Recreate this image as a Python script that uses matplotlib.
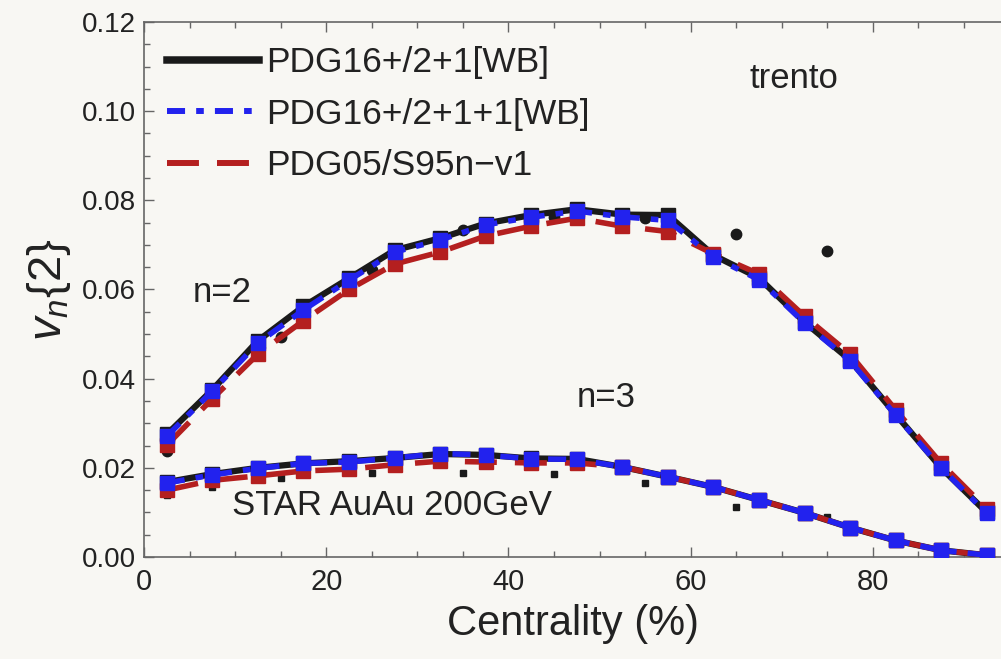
import matplotlib
matplotlib.use("Agg")
import matplotlib.pyplot as plt
from matplotlib.lines import Line2D
from matplotlib.ticker import MultipleLocator
from matplotlib import font_manager

names = {f.name for f in font_manager.fontManager.ttflist}
BASE = "Liberation Sans" if "Liberation Sans" in names else "DejaVu Sans"
NARROW = "Liberation Sans Narrow" if "Liberation Sans Narrow" in names else BASE

plt.rcParams["font.family"] = [BASE, "DejaVu Sans"]
plt.rcParams["mathtext.fontset"] = "custom"
plt.rcParams["mathtext.rm"] = BASE
plt.rcParams["mathtext.it"] = BASE + ":italic"
plt.rcParams["lines.scale_dashes"] = False

# ---------------- data ----------------
centrality = [2.5, 7.5, 12.5, 17.5, 22.5, 27.5, 32.5, 37.5, 42.5, 47.5,
              52.5, 57.5, 62.5, 67.5, 72.5, 77.5, 82.5, 87.5, 92.5]

v2_wb = [0.0275, 0.0375, 0.0485, 0.0562, 0.0625, 0.0688, 0.0715, 0.0748, 0.0767, 0.0780,
         0.0768, 0.0767, 0.0677, 0.0626, 0.0527, 0.0442, 0.0320, 0.0200, 0.0100]
v2_wb1 = [0.0271, 0.0372, 0.0480, 0.0554, 0.0621, 0.0684, 0.0711, 0.0745, 0.0762, 0.0776,
          0.0763, 0.0755, 0.0673, 0.0622, 0.0525, 0.0440, 0.0318, 0.0200, 0.0098]
v2_s95 = [0.0251, 0.0355, 0.0455, 0.0530, 0.0600, 0.0657, 0.0684, 0.0720, 0.0742, 0.0760,
          0.0742, 0.0730, 0.0680, 0.0635, 0.0540, 0.0455, 0.0330, 0.0210, 0.0108]

v3_wb = [0.0168, 0.0186, 0.0200, 0.0210, 0.0215, 0.0222, 0.0231, 0.0229, 0.0221, 0.0220,
         0.0202, 0.0180, 0.0157, 0.0128, 0.0099, 0.0066, 0.0037, 0.0015, 0.0004]
v3_wb1 = [0.0166, 0.0184, 0.0199, 0.0210, 0.0213, 0.0222, 0.0232, 0.0229, 0.0220, 0.0219,
          0.0202, 0.0180, 0.0157, 0.0128, 0.0099, 0.0066, 0.0037, 0.0015, 0.0004]
v3_s95 = [0.0150, 0.0172, 0.0182, 0.0193, 0.0197, 0.0207, 0.0215, 0.0213, 0.0211, 0.0211,
          0.0202, 0.0180, 0.0157, 0.0128, 0.0099, 0.0066, 0.0037, 0.0015, 0.0004]

star_cent = [2.5, 7.5, 15, 25, 35, 45, 55, 65, 75]
star_v2 = [0.0238, 0.0355, 0.0494, 0.0644, 0.0733, 0.0763, 0.0760, 0.0725, 0.0686]
star_v3 = [0.0139, 0.0157, 0.0177, 0.0188, 0.0189, 0.0186, 0.0166, 0.0112, 0.0090]

labels = ["PDG16+/2+1[WB]", "PDG16+/2+1+1[WB]", "PDG05/S95n\u2212v1"]

# ---------------- style ----------------
BG = "#f8f7f3"
BLACK = "#1a1a1a"
BLUE = "#2222ee"
RED = "#b41f1f"
DASHDOT = (0, (13, 8, 5.5, 8))
DASHED = (0, (23, 13))

fig = plt.figure(figsize=(10.01, 6.59), dpi=100, facecolor=BG)
ax = fig.add_axes([0.1439, 0.1548, 1.0 - 0.1439, 0.9666 - 0.1548])
ax.set_facecolor(BG)

for v2, v3, col, ls, lw in [(v2_wb, v3_wb, BLACK, "-", 4.5),
                             (v2_s95, v3_s95, RED, DASHED, 4.0),
                             (v2_wb1, v3_wb1, BLUE, DASHDOT, 4.0)]:
    for v in (v2, v3):
        ax.plot(centrality, v, color=col, linestyle=ls, lw=lw,
                marker="s", ms=9.5, mec=col, mfc=col, zorder=3)

ax.plot(star_cent, star_v2, "o", color=BLACK, ms=7.5, zorder=2)
ax.plot(star_cent, star_v3, "s", color=BLACK, ms=5, zorder=2)

ax.set_xlim(0, 94.07)
ax.set_ylim(0, 0.12)
ax.xaxis.set_major_locator(MultipleLocator(20))
ax.xaxis.set_minor_locator(MultipleLocator(5))
ax.yaxis.set_major_locator(MultipleLocator(0.02))
ax.yaxis.set_minor_locator(MultipleLocator(0.005))
ax.yaxis.set_major_formatter(matplotlib.ticker.FormatStrFormatter("%.2f"))

SP = "#666666"
for s in ("left", "bottom", "top"):
    ax.spines[s].set_color(SP)
    ax.spines[s].set_linewidth(1.2)
ax.spines["right"].set_visible(False)
ax.tick_params(which="both", direction="in", top=True, right=False, color=SP, width=1.0)
ax.tick_params(which="major", length=7)
ax.tick_params(which="minor", length=4)
ax.tick_params(axis="y", labelsize=20, pad=6, labelcolor="#222222")
ax.tick_params(axis="x", labelsize=21, pad=8, labelcolor="#222222")
for t in ax.get_xticklabels():
    t.set_fontfamily(NARROW)

ax.set_xlabel("Centrality (%)", fontsize=30, family=NARROW, color="#222222", labelpad=6)
ax.set_ylabel(r"$v_n\{2\}$", fontsize=34, color="#222222", labelpad=6)

txt = dict(fontsize=25, color="#222222")
ax.text(66.5, 0.1052, "trento", **txt)
ax.text(5.3, 0.0572, "n=2", **txt)
ax.text(47.5, 0.0336, "n=3", **txt)
ax.text(9.7, 0.0094, "STAR AuAu 200GeV", **txt)

handles = [Line2D([], [], color=BLACK, lw=5.4, ls="-"),
           Line2D([], [], color=BLUE, lw=4.3, ls=DASHDOT),
           Line2D([], [], color=RED, lw=4.3, ls=DASHED)]
leg = ax.legend(handles, labels, loc="upper left", bbox_to_anchor=(0.027, 0.955),
                frameon=False, fontsize=25.5, handlelength=2.6, handletextpad=0.2,
                labelspacing=0.52, borderpad=0, borderaxespad=0)
for t in leg.get_texts():
    t.set_color("#222222")

fig.savefig("out.png", dpi=100, facecolor=BG)
